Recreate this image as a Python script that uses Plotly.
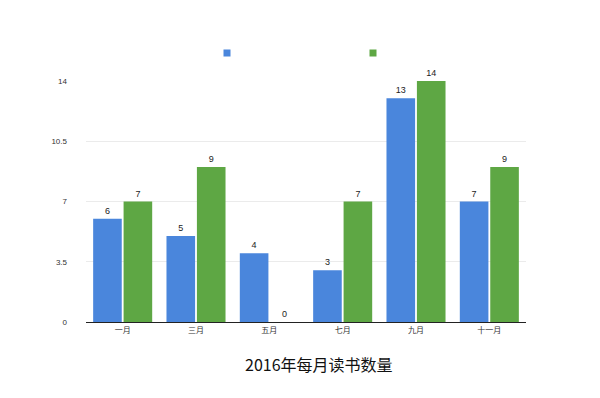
import plotly.graph_objects as go

months = ["一月", "三月", "五月", "七月", "九月", "十一月"]
series_a = [6, 5, 4, 3, 13, 7]
series_b = [7, 9, 0, 7, 14, 9]
y_ticks = [0, 3.5, 7, 10.5, 14]
y_tick_labels = ["0", "3.5", "7", "10.5", "14"]
title_text = "2016年每月读书数量"

blue = "#4a86dc"
green = "#5ea744"
font_family = "Liberation Sans, Noto Sans CJK SC, sans-serif"

fig = go.Figure()
fig.add_trace(go.Bar(x=months, y=series_a, marker=dict(color=blue, line=dict(width=0)),
                     text=series_a, textposition="outside", cliponaxis=False,
                     textfont=dict(size=9, color="#222"), showlegend=False))
fig.add_trace(go.Bar(x=months, y=series_b, marker=dict(color=green, line=dict(width=0)),
                     text=series_b, textposition="outside", cliponaxis=False,
                     textfont=dict(size=9, color="#222"), showlegend=False))
# legend proxies (series have no names in the reference)
fig.add_trace(go.Scatter(x=[None], y=[None], mode="markers", name=" ",
                         marker=dict(symbol="square", size=7, color=blue)))
fig.add_trace(go.Scatter(x=[None], y=[None], mode="markers", name=" ",
                         marker=dict(symbol="square", size=7, color=green)))

fig.update_layout(
    width=600, height=398,
    margin=dict(l=86, r=74, t=81, b=76, autoexpand=False),
    paper_bgcolor="white", plot_bgcolor="white",
    font=dict(family=font_family, size=8, color="#333"),
    barmode="group", bargap=0.17, bargroupgap=0.06,
    showlegend=True,
    legend=dict(orientation="h", x=0.275, xanchor="left", y=1.116, yanchor="middle",
                entrywidth=101, entrywidthmode="pixels",
                font=dict(size=8), itemclick=False, bgcolor="rgba(0,0,0,0)"),
    xaxis=dict(showline=True, linecolor="#222", linewidth=1, ticks="",
               tickfont=dict(size=8, color="#333"), showgrid=False),
    yaxis=dict(range=[0, 14], tickvals=y_ticks, ticktext=y_tick_labels,
               showgrid=True, gridcolor="#ebebeb", gridwidth=1, zeroline=False,
               showline=False, tickfont=dict(size=8, color="#333"), ticks="",
               ticklabelstandoff=18),
    annotations=[dict(text=title_text, x=0.53, xref="paper", y=-0.115, yref="paper",
                      xanchor="center", yanchor="top", showarrow=False,
                      font=dict(family="Noto Sans CJK SC, sans-serif", size=16, color="#111"))],
)
fig.write_html("out.html", config={"displayModeBar": False},
               post_script="document.body.style.margin='0';")
